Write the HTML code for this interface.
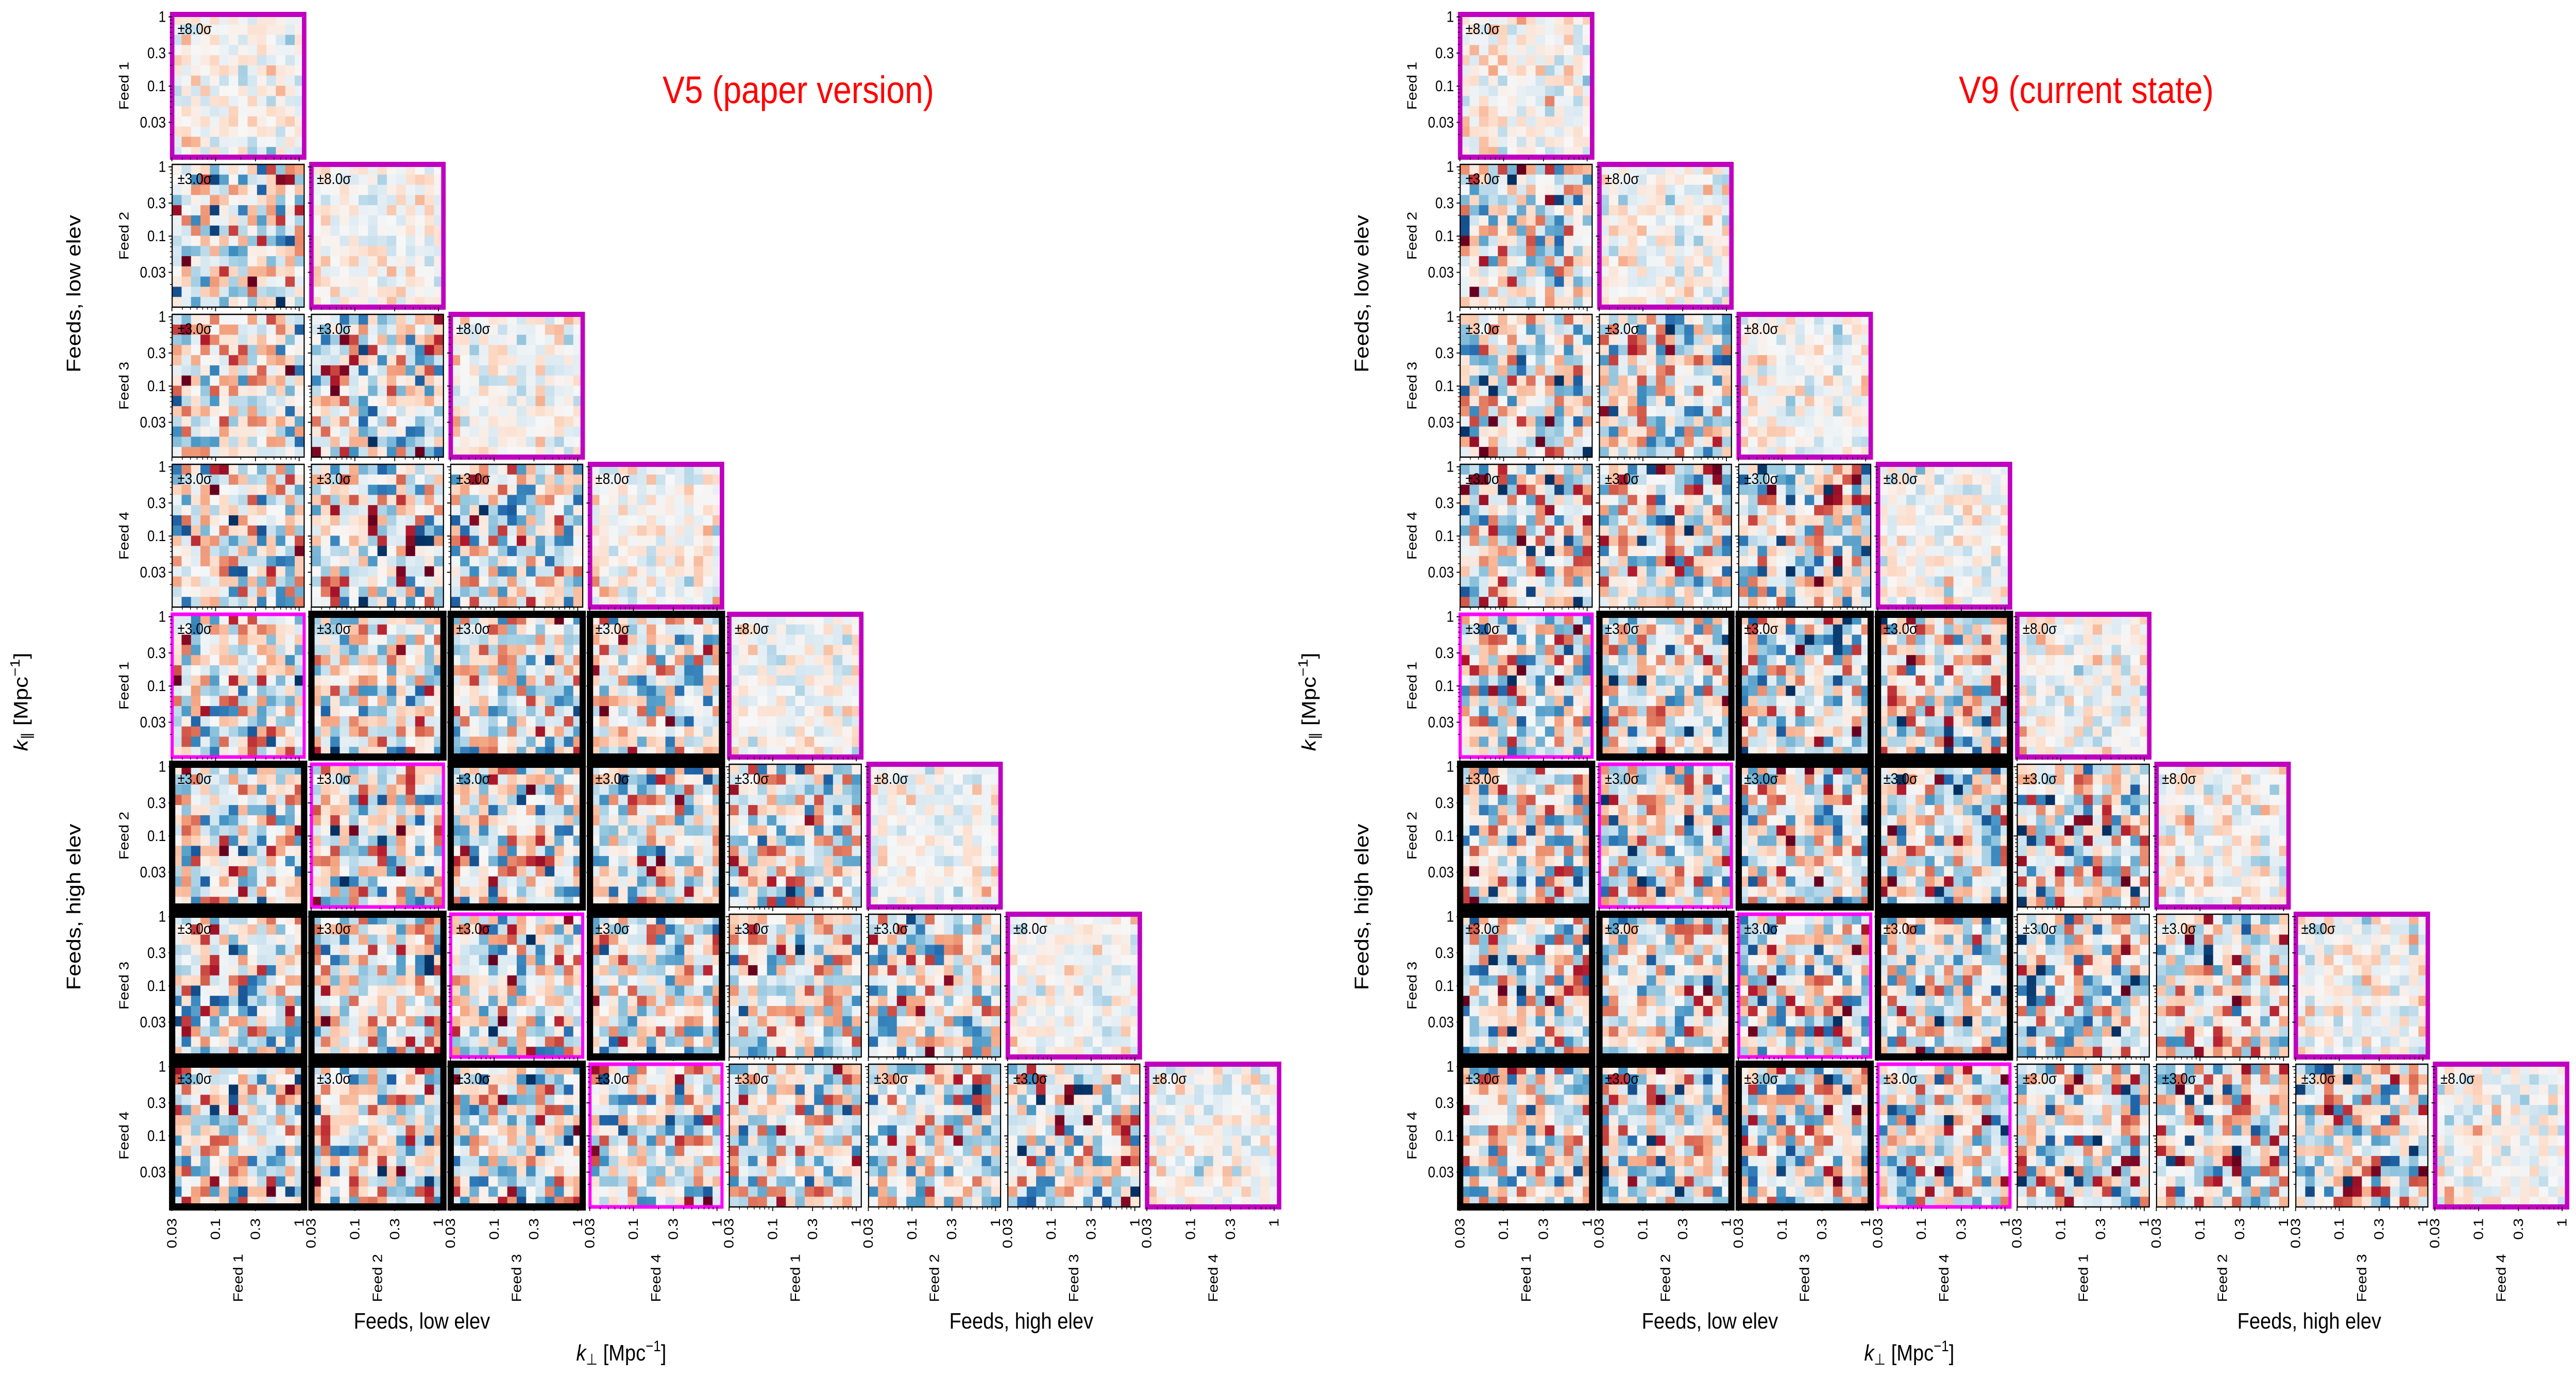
<!DOCTYPE html>
<html><head><meta charset="utf-8">
<style>
html,body{margin:0;padding:0;background:#fff;width:100vw;height:100vh;overflow:hidden;}
svg{display:block;width:100vw;height:100vh;}
text{font-family:"Liberation Sans","DejaVu Sans",sans-serif;fill:#000;}
</style></head>
<body>
<svg id="fig" viewBox="0 0 5776 2672" preserveAspectRatio="none" xmlns="http://www.w3.org/2000/svg" overflow="hidden"></svg>
<script>
// ---- chart data ----
const feedNames = ["Feed 1","Feed 2","Feed 3","Feed 4","Feed 1","Feed 2","Feed 3","Feed 4"];
const groupNames = ["Feeds, low elev","Feeds, high elev"];
const versionTitles = ["V5 (paper version)","V9 (current state)"];
const tickValues = [0.03, 0.1, 0.3, 1];
const tickLabels = ["0.03","0.1","0.3","1"];
const minorTickValues = [0.02,0.04,0.05,0.06,0.07,0.08,0.09,0.2,0.4,0.5,0.6,0.7,0.8,0.9];
const sigmaDiag = "±8.0σ";
const sigmaOff = "±3.0σ";
const offDiagAmplitude = [0.42, 0.44];
const diagAmplitude = [0.16, 0.18];
const nCells = 14;

// ---- geometry ----
const svg = document.getElementById('fig');
const NS = "http://www.w3.org/2000/svg";
const X0 = 386, PITCHX = 312.3, Y0 = 28, PITCHY = 291, PW = 296, PH = 277, OFFX = 2888;
const xLog = v => (Math.log10(v) + 1.52) / 1.58;
const yLog = v => (0.035 - Math.log10(v)) / 2.06;

const stops = ["#053061","#2166ac","#4393c3","#92c5de","#d1e5f0","#f7f7f7","#fddbc7","#f4a582","#d6604d","#b2182b","#67001f"];
function hex(h){return [parseInt(h.slice(1,3),16),parseInt(h.slice(3,5),16),parseInt(h.slice(5,7),16)];}
const stopRGB = stops.map(hex);
function cmap(v){
  v = Math.max(-1, Math.min(1, v));
  const t = (v + 1) / 2 * 10, i = Math.min(9, Math.floor(t)), f = t - i;
  const a = stopRGB[i], b = stopRGB[i+1];
  return `rgb(${Math.round(a[0]+(b[0]-a[0])*f)},${Math.round(a[1]+(b[1]-a[1])*f)},${Math.round(a[2]+(b[2]-a[2])*f)})`;
}
let seed = 12345;
function rnd(){ seed = (seed * 1103515245 + 12345) % 2147483648; return seed / 2147483648; }
function gauss(){ return (rnd()+rnd()+rnd()+rnd()-2) * 1.7; }

function el(tag, attrs, parent){ const e = document.createElementNS(NS, tag); for (const k in attrs) e.setAttribute(k, attrs[k]); (parent||svg).appendChild(e); return e; }
function text(str, x, y, size, opts, parent){
  const t = el('text', Object.assign({x:x, y:y, 'font-size':size}, opts||{}), parent);
  t.textContent = str; return t;
}

for (let v = 0; v < 2; v++) {
  const ox = OFFX * v;
  const g = el('g', {});
  
  
  for (let r = 0; r < 8; r++) {
    for (let c = 0; c <= r; c++) {
      const x = ox + X0 + PITCHX * c, y = Y0 + PITCHY * r;
      const diag = (r === c);
      const pg = el('g', {}, g);
      
      
      const cw = PW / nCells, ch = PH / nCells;
      for (let i = 0; i < nCells; i++) for (let j = 0; j < nCells; j++) {
        let val;
        if (diag) {
          val = gauss() * diagAmplitude[v];
          if (j < 3 && i > 8) val += 0.25 * rnd() * (3 - j) / 3;
        } else val = gauss() * offDiagAmplitude[v];
        const cell = el('rect', {x: (x + j*cw).toFixed(2), y: (y + i*ch).toFixed(2), width: (cw+0.6).toFixed(2), height: (ch+0.6).toFixed(2), fill: cmap(val)}, pg);
        
        
      }
      let stroke = '#000', sw = 2.5;
      if (diag) { stroke = '#c000c0'; sw = 10; }
      else if (r >= 4 && c <= 3) { if (c === r - 4) { stroke = '#ff00ff'; sw = 7; } else { stroke = '#000'; sw = 14; } }
      const b = el('rect', {x:x, y:y, width:PW, height:PH, fill:'none', stroke:stroke, 'stroke-width':sw}, pg);
      
      
      const st = text(diag ? sigmaDiag : sigmaOff, x + 12, y + 38, 30, {}, pg);
      
      
      minorTickValues.forEach(mv => {
        const my = y + PH * yLog(mv);
        if (my > y && my < y + PH) el('line', {x1:x-5, x2:x, y1:my, y2:my, stroke:'#000', 'stroke-width':1.5}, pg);
        const mx = x + PW * xLog(mv);
        if (mx > x && mx < x + PW) el('line', {x1:mx, x2:mx, y1:y+PH, y2:y+PH+5, stroke:'#000', 'stroke-width':1.5}, pg);
      });
      tickValues.forEach((tv, k) => {
        const ty = y + PH * yLog(tv);
        el('line', {x1:x-8, x2:x, y1:ty, y2:ty, stroke:'#000', 'stroke-width':2}, pg);
        const tx = x + PW * xLog(tv);
        el('line', {x1:tx, x2:tx, y1:y+PH, y2:y+PH+8, stroke:'#000', 'stroke-width':2}, pg);
        if (c === 0) {
          const yl = text(tickLabels[k], x - 14, ty + 10, 30, {'text-anchor':'end'}, pg);
          
          
        }
        if (r === 7) {
          const xl = text(tickLabels[k], 0, 0, 30, {'text-anchor':'end', transform:`translate(${tx+10},${y+PH+22}) rotate(-90)`}, pg);
          
          
        }
      });
      if (c === 0) {
        const fl = text(feedNames[r], 0, 0, 30, {'text-anchor':'middle', transform:`translate(${ox+288},${y+PH/2}) rotate(-90)`}, pg);
        
        
      }
      if (r === 7) {
        const fl = text(feedNames[c], 0, 0, 30, {'text-anchor':'middle', transform:`translate(${x+PW/2+10},${2480}) rotate(-90)`}, pg);
        
        
      }
    }
  }
  const tt = text(versionTitles[v], ox + 1790, 200, 74, {'text-anchor':'middle', style:'fill:#ff0000'});
  
  
  const g1 = text(groupNames[0], ox + 946, 2578, 44, {'text-anchor':'middle'});
  
  
  const g2 = text(groupNames[1], ox + 2290, 2578, 44, {'text-anchor':'middle'});
  
  
  const g3 = text(groupNames[0], 0, 0, 44, {'text-anchor':'middle', transform:`translate(${ox+180},570) rotate(-90)`});
  
  
  const g4 = text(groupNames[1], 0, 0, 44, {'text-anchor':'middle', transform:`translate(${ox+180},1760) rotate(-90)`});
  
  
  const xt = el('text', {x: ox + 1393, y: 2640, 'font-size':44, 'text-anchor':'middle'});
  xt.innerHTML = '<tspan font-style="italic">k</tspan><tspan font-size="30" dy="8">⊥</tspan><tspan dy="-8"> [Mpc</tspan><tspan font-size="30" dy="-18">−1</tspan><tspan dy="18">]</tspan>';
  
  
  const yt = el('text', {x:0, y:0, 'font-size':44, 'text-anchor':'middle', transform:`translate(${ox+62},1362) rotate(-90)`});
  yt.innerHTML = '<tspan font-style="italic">k</tspan><tspan font-size="30" dy="8">∥</tspan><tspan dy="-8"> [Mpc</tspan><tspan font-size="30" dy="-18">−1</tspan><tspan dy="18">]</tspan>';
  
  
}
</script>
</body></html>
